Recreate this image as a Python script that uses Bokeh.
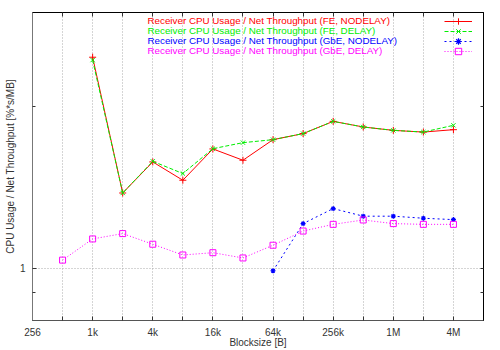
from bokeh.plotting import figure
from bokeh.models import (Range1d, LogAxis, FixedTicker, Label, Legend, LegendItem)
from bokeh.embed import file_html
from bokeh.resources import INLINE

# ---- data ----
blocksize = [512, 1024, 2048, 4096, 8192, 16384, 32768, 65536, 131072,
             262144, 524288, 1048576, 2097152, 4194304]
fe_nodelay_x = blocksize[1:]
fe_nodelay = [20.1, 2.92, 4.54, 3.50, 5.46, 4.65, 6.23, 6.79, 8.08, 7.46, 7.11, 6.94, 7.18]
fe_delay_x = blocksize[1:]
fe_delay = [19.3, 2.92, 4.58, 3.85, 5.48, 5.97, 6.23, 6.79, 8.08, 7.46, 7.11, 6.94, 7.64]
gbe_nodelay_x = blocksize[7:]
gbe_nodelay = [0.967, 1.89, 2.34, 2.10, 2.10, 2.04, 2.00]
gbe_delay_x = blocksize
gbe_delay = [1.125, 1.52, 1.64, 1.41, 1.21, 1.25, 1.16, 1.39, 1.70, 1.87, 1.99, 1.89, 1.87, 1.87]

series_names = ["Receiver CPU Usage / Net Throughput (FE, NODELAY)",
                "Receiver CPU Usage / Net Throughput (FE, DELAY)",
                "Receiver CPU Usage / Net Throughput (GbE, NODELAY)",
                "Receiver CPU Usage / Net Throughput (GbE, DELAY)"]

x_labeled_ticks = [256, 1024, 4096, 16384, 65536, 262144, 1048576, 4194304]
x_unlabeled_ticks = [512, 2048, 8192, 32768, 131072, 524288, 2097152]
x_tick_labels = {256: "256", 1024: "1k", 4096: "4k", 16384: "16k", 65536: "64k",
                 262144: "256k", 1048576: "1M", 4194304: "4M"}
y_major_ticks = [1]
y_minor_ticks = [0.708, 10]

FONT = "Liberation Sans"
colors = ["#ff0000", "#00ee00", "#0000ff", "#ff00ff"]

p = figure(width=500, height=350, x_axis_type="log", y_axis_type="log",
           x_range=Range1d(256, 2 ** 23), y_range=Range1d(0.477, 37.95),
           output_backend="svg", toolbar_location=None,
           min_border_left=32, min_border_right=17, min_border_top=12, min_border_bottom=29,
           background_fill_color="white", border_fill_color="white")

p.outline_line_color = "black"
p.outline_line_width = 1

xt = FixedTicker(ticks=x_labeled_ticks, minor_ticks=x_unlabeled_ticks)
yt = FixedTicker(ticks=y_major_ticks, minor_ticks=y_minor_ticks)

xa = p.xaxis[0]
xa.ticker = xt
xa.major_label_overrides = x_tick_labels
xa.major_tick_in = 4
xa.major_tick_out = 0
xa.minor_tick_in = 4
xa.minor_tick_out = 0
xa.major_label_standoff = 6
xa.major_label_text_font = FONT
xa.major_label_text_font_size = "10px"
xa.major_label_text_color = "#333333"
xa.axis_line_color = "#555555"
xa.major_tick_line_color = "#333333"
xa.minor_tick_line_color = "#333333"
xa.axis_label = "Blocksize [B]"
xa.axis_label_standoff = -4
xa.axis_label_text_font = FONT
xa.axis_label_text_font_size = "10px"
xa.axis_label_text_font_style = "normal"
xa.axis_label_text_color = "#333333"

ya = p.yaxis[0]
ya.ticker = yt
ya.major_label_overrides = {1: "1"}
ya.major_tick_in = 4
ya.major_tick_out = 0
ya.minor_tick_in = 3
ya.minor_tick_out = 0
ya.major_label_standoff = 7
ya.major_label_text_font = FONT
ya.major_label_text_font_size = "10px"
ya.major_label_text_color = "#333333"
ya.axis_line_color = "#777777"
ya.major_tick_line_color = "#333333"
ya.minor_tick_line_color = "#333333"
ya.axis_label = "CPU Usage / Net Throughput [%*s/MB]"
ya.axis_label_standoff = 1
ya.axis_label_text_font = FONT
ya.axis_label_text_font_size = "10px"
ya.axis_label_text_font_style = "normal"
ya.axis_label_text_color = "#333333"

# mirrored ticks (top / right) - only minor ticks, so no labels at all
top = LogAxis(ticker=FixedTicker(ticks=[], minor_ticks=x_labeled_ticks + x_unlabeled_ticks),
              major_tick_in=0, major_tick_out=0, minor_tick_in=4, minor_tick_out=0,
              major_label_standoff=0, axis_line_color="black", minor_tick_line_color="#333333")
right = LogAxis(ticker=FixedTicker(ticks=[], minor_ticks=y_major_ticks + y_minor_ticks),
                major_tick_in=0, major_tick_out=0, minor_tick_in=3, minor_tick_out=0,
                major_label_standoff=0, axis_line_color="black", minor_tick_line_color="#333333")
p.add_layout(top, "above")
p.add_layout(right, "right")

p.xgrid.ticker = xt
p.xgrid.grid_line_color = "#aaaaaa"
p.xgrid.grid_line_dash = "1 2"
p.xgrid.minor_grid_line_color = "#aaaaaa"
p.xgrid.minor_grid_line_dash = "1 2"
p.ygrid.ticker = FixedTicker(ticks=y_major_ticks)
p.ygrid.grid_line_color = "#aaaaaa"
p.ygrid.grid_line_dash = "1 2"
p.ygrid.minor_grid_line_color = None

# ---- series ----
l1 = p.line(fe_nodelay_x, fe_nodelay, line_color=colors[0], line_width=1)
m1 = p.scatter(fe_nodelay_x, fe_nodelay, marker="cross", size=7, line_color=colors[0], line_width=1)
l2 = p.line(fe_delay_x, fe_delay, line_color=colors[1], line_width=1, line_dash="4 2")
m2 = p.scatter(fe_delay_x, fe_delay, marker="x", size=6, line_color=colors[1], line_width=1)
l3 = p.line(gbe_nodelay_x, gbe_nodelay, line_color=colors[2], line_width=1, line_dash="2 3")
m3 = p.scatter(gbe_nodelay_x, gbe_nodelay, marker="asterisk", size=5, line_color=colors[2], line_width=1.2)
l4 = p.line(gbe_delay_x, gbe_delay, line_color=colors[3], line_width=1, line_dash="1 2")
m4 = p.scatter(gbe_delay_x, gbe_delay, marker="square", size=6, line_color=colors[3],
               fill_color=None, line_width=1)

# ---- legend: sample glyphs (one bokeh legend per row) + coloured texts ----
renderer_pairs = [(l1, m1), (l2, m2), (l3, m3), (l4, m4)]
for i, (lr, mr) in enumerate(renderer_pairs):
    leg = Legend(items=[LegendItem(label=" ", renderers=[lr, mr])],
                 location=(412, 291.3 - 10 * i), orientation="vertical",
                 glyph_width=28, glyph_height=16, label_height=16, label_width=2,
                 label_standoff=0, spacing=0, padding=0, margin=0,
                 label_text_font_size="10px", border_line_alpha=0,
                 background_fill_alpha=0)
    p.add_layout(leg, "center")

for i, name in enumerate(series_names):
    p.add_layout(Label(x=115, y=299.8 - 10 * i, x_units="screen", y_units="screen",
                       text=name, text_color=colors[i], text_font=FONT,
                       text_font_size="9.8px", text_baseline="middle", text_align="left"))

open("out.html", "w").write(file_html(p, INLINE))
